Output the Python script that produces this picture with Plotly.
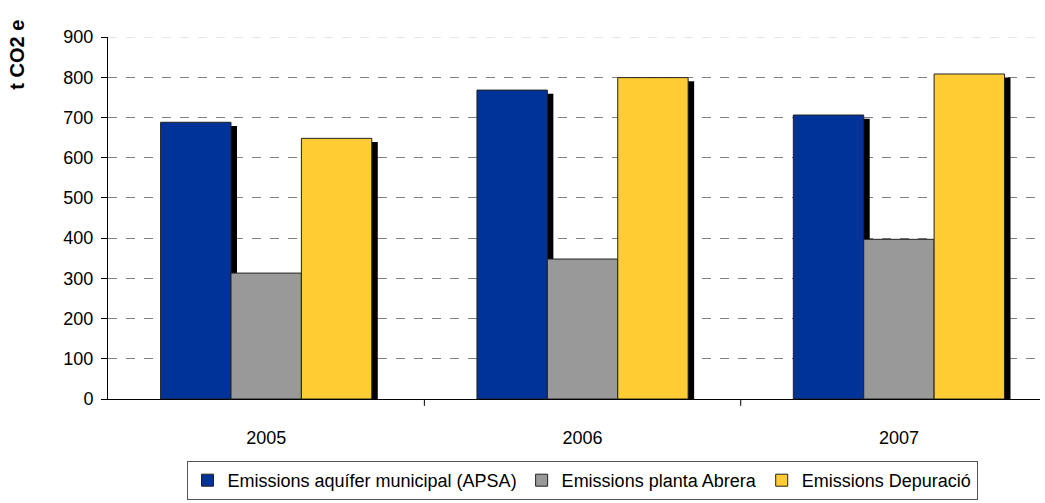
import plotly.graph_objects as go

years = ["2005", "2006", "2007"]
series_names = ["Emissions aquífer municipal (APSA)", "Emissions planta Abrera", "Emissions Depuració"]
apsa = [688, 768, 706]
abrera = [313, 348, 397]
depuracio = [648, 799, 808]
colors = ["#003399", "#999999", "#FFCC33"]
y_ticks = [0, 100, 200, 300, 400, 500, 600, 700, 800, 900]

values = [apsa, abrera, depuracio]
bar_w = 0.2225
offsets = [-1.5 * bar_w, -0.5 * bar_w, 0.5 * bar_w]
sh_dx = 0.019
sh_dy = 9

fig = go.Figure()
# shadows
for vals, off in zip(values, offsets):
    fig.add_trace(go.Bar(
        x=[0, 1, 2], y=[v - sh_dy for v in vals], width=bar_w, offset=off + sh_dx,
        marker=dict(color="black", line=dict(width=0)), showlegend=False, hoverinfo="skip"))
for name, vals, off, c in zip(series_names, values, offsets, colors):
    fig.add_trace(go.Bar(
        x=[0, 1, 2], y=vals, width=bar_w, offset=off, name=name,
        marker=dict(color=c, line=dict(color="#222222", width=1))))

fig.update_layout(
    barmode="overlay",
    width=1045, height=503,
    margin=dict(l=108, r=5, t=37, b=104, autoexpand=False),
    plot_bgcolor="white", paper_bgcolor="white",
    font=dict(family="Liberation Sans, Arial, sans-serif", size=18, color="black"),
    showlegend=True,
    legend=dict(orientation="h", x=0.5086, xanchor="center", y=-0.279, yanchor="bottom",
                bordercolor="#555555", borderwidth=1, font=dict(size=18),
                traceorder="normal", itemwidth=30, tracegroupgap=0),
    xaxis=dict(range=[-0.5, 2.446], tickmode="array", tickvals=[0, 1, 2], ticktext=years,
               showgrid=False, showline=True, linecolor="black", linewidth=1,
               ticks="", ticklabelstandoff=22, zeroline=False, automargin=False),
    yaxis=dict(range=[0, 900], tickvals=y_ticks, showgrid=True, gridcolor="#808080",
               griddash="dash", gridwidth=1, showline=True, linecolor="black", linewidth=1,
               ticks="outside", ticklen=6, tickcolor="black", zeroline=False,
               ticklabelstandoff=4, automargin=False),
)
# top gridline (lighter in reference)
fig.add_shape(type="line", xref="paper", yref="y", x0=0, x1=1, y0=y_ticks[-1], y1=y_ticks[-1],
              line=dict(color="#d0d0d0", width=1, dash="dash"), layer="below")
# category boundary tick marks on x axis
for b in [0.5, 1.5]:
    fig.add_shape(type="line", xref="x", yref="paper", x0=b, x1=b, y0=0, y1=-0.019,
                  line=dict(color="black", width=1))
fig.add_annotation(text="<b>t CO2 e</b>", xref="paper", yref="paper", x=-0.097, y=0.950,
                   xanchor="center", yanchor="middle", textangle=-90, showarrow=False,
                   font=dict(size=20))
fig.write_html("out.html", post_script="document.body.style.margin='0px';",
               config={"displayModeBar": False})
